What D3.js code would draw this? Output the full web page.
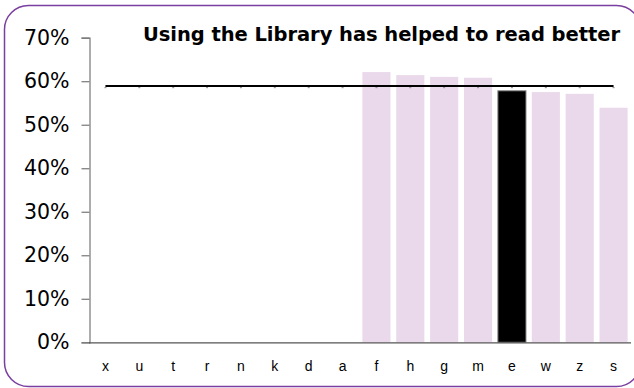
<!DOCTYPE html>
<html>
<head>
<meta charset="utf-8">
<script src="https://cdn.jsdelivr.net/npm/d3@7"></script>
<style>
  html, body { margin: 0; padding: 0; background: #fff; }
  svg { display: block; }
</style>
</head>
<body>
<svg id="chart" width="634" height="388"></svg>
<script>
const categories = ["x","u","t","r","n","k","d","a","f","h","g","m","e","w","z","s"];
const values = [null,null,null,null,null,null,null,null,0.621,0.614,0.610,0.608,0.578,0.575,0.571,0.539];
const highlight = ["e"];
const averageValue = 0.589;
const yTicks = [0,0.1,0.2,0.3,0.4,0.5,0.6,0.7];
const title = "Using the Library has helped to read better";

const svg = d3.select("#chart");

// frame
svg.append("rect")
  .attr("x", 4.5).attr("y", 5.5)
  .attr("width", 636).attr("height", 381)
  .attr("rx", 24).attr("ry", 24)
  .attr("fill", "none")
  .attr("stroke", "#7A3FA0")
  .attr("stroke-width", 1.5);

const x = d3.scaleBand().domain(categories).range([88.5, 630.5]).paddingInner(0.17).paddingOuter(0.085);
const xc = d3.scalePoint().domain(categories).range([88.5 + 542/32, 630.5 - 542/32]);
const y = d3.scaleLinear().domain([0, 0.7]).range([342.3, 37.7]);

// bars
svg.append("g").selectAll("rect")
  .data(categories.map((c,i)=>({c, v: values[i]})).filter(d=>d.v!=null))
  .join("rect")
  .attr("x", d => x(d.c))
  .attr("y", d => y(d.v))
  .attr("width", x.bandwidth())
  .attr("height", d => y(0) - y(d.v))
  .attr("fill", d => highlight.includes(d.c) ? "#000" : "#EAD9EB")
  .attr("stroke", d => highlight.includes(d.c) ? "#888" : "none")
  .attr("stroke-width", 1);

// y axis
const yAxis = d3.axisLeft(y).tickValues(yTicks).tickFormat(d3.format(".0%")).tickSize(8).tickPadding(12);
const gy = svg.append("g").attr("transform", "translate(89.5,0)").call(yAxis);
gy.select(".domain").attr("stroke", "#777").attr("stroke-width", 1.2);
gy.selectAll(".tick line").attr("stroke", "#777").attr("stroke-width", 1.2);
gy.selectAll(".tick text")
  .attr("font-family", "'DejaVu Sans', Verdana, sans-serif")
  .attr("font-size", 20.5)
  .attr("fill", "#000");

// x axis
const xAxis = d3.axisBottom(x).tickSize(0).tickPadding(19);
const gx = svg.append("g").attr("transform", `translate(0,${y(0)})`).call(xAxis);
gx.select(".domain").attr("stroke", "#555").attr("stroke-width", 1.2);
gx.selectAll(".tick text")
  .attr("font-family", "'Liberation Sans', Arial, sans-serif")
  .attr("font-size", 14)
  .attr("fill", "#000");

// average line
const lineData = categories.map(c => ({c, v: averageValue}));
svg.append("path")
  .datum(lineData)
  .attr("fill", "none")
  .attr("stroke", "#000")
  .attr("stroke-width", 2.2)
  .attr("d", d3.line().x(d => xc(d.c)).y(d => y(d.v)));
svg.append("g").selectAll("rect")
  .data(lineData)
  .join("rect")
  .attr("x", d => xc(d.c) - 1)
  .attr("y", d => y(d.v) + 1)
  .attr("width", 2).attr("height", 1.2)
  .attr("fill", "#999");

// title
svg.append("text")
  .attr("x", 620).attr("y", 41)
  .attr("text-anchor", "end")
  .attr("font-family", "'DejaVu Sans', Verdana, sans-serif")
  .attr("font-weight", "bold")
  .attr("font-size", 19.5)
  .attr("textLength", 477)
  .attr("lengthAdjust", "spacing")
  .attr("fill", "#000")
  .text(title);
</script>
</body>
</html>
